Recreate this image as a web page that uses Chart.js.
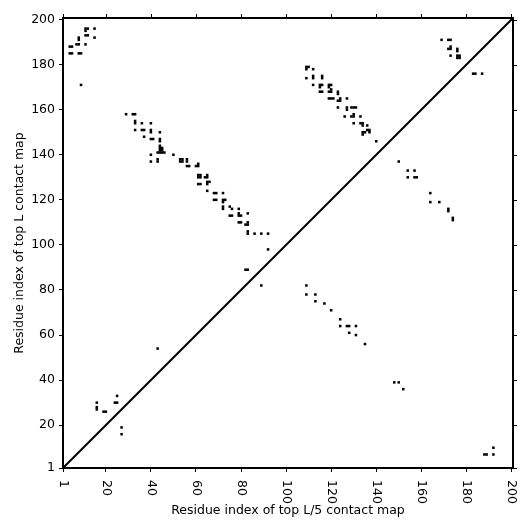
<!DOCTYPE html>
<html>
<head>
<meta charset="utf-8">
<script src="https://cdn.jsdelivr.net/npm/chart.js@4/dist/chart.umd.min.js"></script>
<style>
  html, body { margin: 0; padding: 0; background: #fff; }
</style>
</head>
<body>
<canvas id="contact-map" width="532" height="532"></canvas>
<script>
/* Contact map: top L (upper triangle) vs top L/5 (lower triangle) */

// residue pairs [x, y]
const topLContacts = [
  [11, 196], [12, 196], [11, 195], [15, 196],
  [11, 193], [12, 193], [15, 192], [8, 192], [8, 191],
  [7, 189], [8, 189], [11, 189], [4, 188], [5, 188],
  [4, 185], [5, 185], [8, 185], [9, 185], [9, 171],
  [29, 158], [32, 158], [33, 158], [33, 155], [33, 154], [36, 154], [40, 154],
  [33, 151], [36, 151], [37, 151], [40, 151], [40, 150], [44, 150],
  [37, 148], [40, 147], [41, 147], [44, 147], [44, 146],
  [44, 144], [44, 143], [45, 143], [44, 142], [45, 142],
  [43, 141], [44, 141], [45, 141], [46, 141], [40, 140], [50, 140],
  [40, 137], [43, 138], [43, 137], [53, 138], [54, 138], [53, 137], [54, 137],
  [56, 138], [56, 137], [56, 135], [57, 135], [60, 135], [61, 135], [61, 136],
  [61, 131], [62, 131], [61, 130], [62, 130], [65, 131], [64, 130], [65, 130],
  [61, 127], [62, 127], [65, 128], [66, 128], [65, 127],
  [65, 124], [68, 123], [69, 123], [72, 123],
  [68, 120], [69, 120], [72, 120], [73, 120], [72, 119],
  [72, 117], [72, 116], [75, 117], [76, 116], [79, 116],
  [75, 113], [76, 113], [79, 114], [79, 113], [80, 113], [83, 114],
  [79, 110], [80, 110], [83, 110], [82, 109], [83, 109],
  [83, 106], [83, 105], [86, 105], [89, 105], [92, 105], [92, 98],
  [82, 89], [83, 89], [43, 54],
  [16, 30], [16, 28], [16, 27], [19, 26], [20, 26], [25, 33], [24, 30], [25, 30],
  [109, 179], [110, 179], [109, 178], [112, 178],
  [109, 174], [112, 175], [112, 174], [116, 175], [116, 174],
  [112, 171], [115, 171], [116, 171], [115, 170], [119, 171], [120, 171], [119, 170],
  [115, 168], [116, 168], [119, 168], [120, 168], [120, 169], [123, 168], [123, 167],
  [119, 165], [120, 165], [121, 165], [124, 165], [123, 164], [124, 164], [127, 165],
  [123, 161], [127, 161], [129, 161], [130, 161], [131, 161], [127, 160],
  [126, 157], [130, 158], [129, 157], [130, 157], [133, 157],
  [130, 154], [133, 154], [134, 154], [134, 153], [136, 153],
  [134, 150], [135, 150], [134, 149], [136, 151], [137, 151], [137, 150],
  [140, 146], [150, 137], [154, 133], [157, 133], [154, 130], [157, 130], [158, 130],
  [164, 123], [164, 119], [168, 119], [172, 116], [172, 115], [174, 112], [174, 111],
  [169, 191], [172, 191], [173, 191], [173, 188], [172, 187], [173, 187],
  [176, 187], [176, 186], [173, 184], [176, 184], [177, 184], [176, 183], [177, 183],
  [183, 176], [184, 176], [187, 176]
];

const topL5Contacts = [
  [27, 19], [27, 16], [89, 82],
  [109, 82], [109, 78], [113, 78], [113, 75], [117, 74], [120, 71],
  [124, 67], [124, 64], [127, 64], [128, 64], [131, 64], [128, 61], [131, 60], [135, 56],
  [148, 39], [150, 39], [152, 36],
  [188, 7], [189, 7], [192, 10], [192, 7]
];

const axisTicks = [1, 20, 40, 60, 80, 100, 120, 140, 160, 180, 200];
const axisMin = 1;
const axisMax = 200.7;

const xTitle = 'Residue index of top L/5 contact map';
const yTitle = 'Residue index of top L contact map';

const FONT = { family: "'DejaVu Sans', sans-serif", size: 12.5 };

const toPoints = pairs => pairs.map(([x, y]) => ({ x, y }));

// frame on all four sides, ticks on top/right, rotated x labels
const framePlugin = {
  id: 'frame',
  afterDraw(chart) {
    const { ctx, chartArea: a, scales: { x, y } } = chart;
    ctx.save();
    ctx.strokeStyle = '#000';
    ctx.lineWidth = 1;
    ctx.beginPath();
    axisTicks.forEach(v => {
      const px = Math.round(x.getPixelForValue(v)) + 0.5;
      ctx.moveTo(px, a.top); ctx.lineTo(px, a.top - 4);
      const py = Math.round(y.getPixelForValue(v)) + 0.5;
      ctx.moveTo(a.right, py); ctx.lineTo(a.right + 4, py);
    });
    ctx.stroke();
    ctx.lineWidth = 2;
    ctx.strokeRect(a.left, a.top, a.right - a.left, a.bottom - a.top);

    ctx.fillStyle = '#000';
    ctx.font = `${FONT.size}px ${FONT.family}`;
    ctx.textAlign = 'left';
    ctx.textBaseline = 'middle';
    axisTicks.forEach(v => {
      ctx.save();
      ctx.translate(x.getPixelForValue(v), a.bottom + 12);
      ctx.rotate(Math.PI / 2);
      ctx.fillText(String(v), 0, 0);
      ctx.restore();
    });
    ctx.restore();
  }
};

const cellStyle = {
  pointStyle: 'rect',
  pointRadius: 1.8,
  pointBorderWidth: 0,
  backgroundColor: '#000',
  borderColor: '#000'
};

new Chart(document.getElementById('contact-map'), {
  type: 'scatter',
  data: {
    datasets: [
      { label: 'top L', data: toPoints(topLContacts), ...cellStyle },
      { label: 'top L/5', data: toPoints(topL5Contacts), ...cellStyle },
      {
        type: 'line',
        label: 'diagonal',
        data: [{ x: axisMin, y: axisMin }, { x: axisMax, y: axisMax }],
        borderColor: '#000',
        borderWidth: 2,
        pointRadius: 0,
        fill: false
      }
    ]
  },
  options: {
    responsive: false,
    animation: false,
    events: [],
    layout: { padding: { top: 18, right: 19, left: 0, bottom: 0 } },
    plugins: { legend: { display: false }, tooltip: { enabled: false } },
    scales: {
      x: {
        type: 'linear',
        min: axisMin,
        max: axisMax,
        afterBuildTicks: s => { s.ticks = axisTicks.map(v => ({ value: v })); },
        afterFit: s => { s.height = 64; },
        grid: { drawOnChartArea: false, drawTicks: true, tickLength: 4, color: '#000' },
        border: { display: true, color: '#000', width: 2 },
        ticks: { display: false },
        title: { display: true, text: xTitle, color: '#000', font: FONT, padding: { top: 0, bottom: 14 } }
      },
      y: {
        type: 'linear',
        min: axisMin,
        max: axisMax,
        afterBuildTicks: s => { s.ticks = axisTicks.map(v => ({ value: v })); },
        afterFit: s => { s.width = 63; },
        grid: { drawOnChartArea: false, drawTicks: true, tickLength: 4, color: '#000' },
        border: { display: true, color: '#000', width: 2 },
        ticks: { color: '#000', font: FONT, padding: 4, callback: v => String(v) },
        title: { display: true, text: yTitle, color: '#000', font: FONT, padding: { top: 12, bottom: 0 } }
      }
    }
  },
  plugins: [framePlugin]
});
</script>
</body>
</html>
